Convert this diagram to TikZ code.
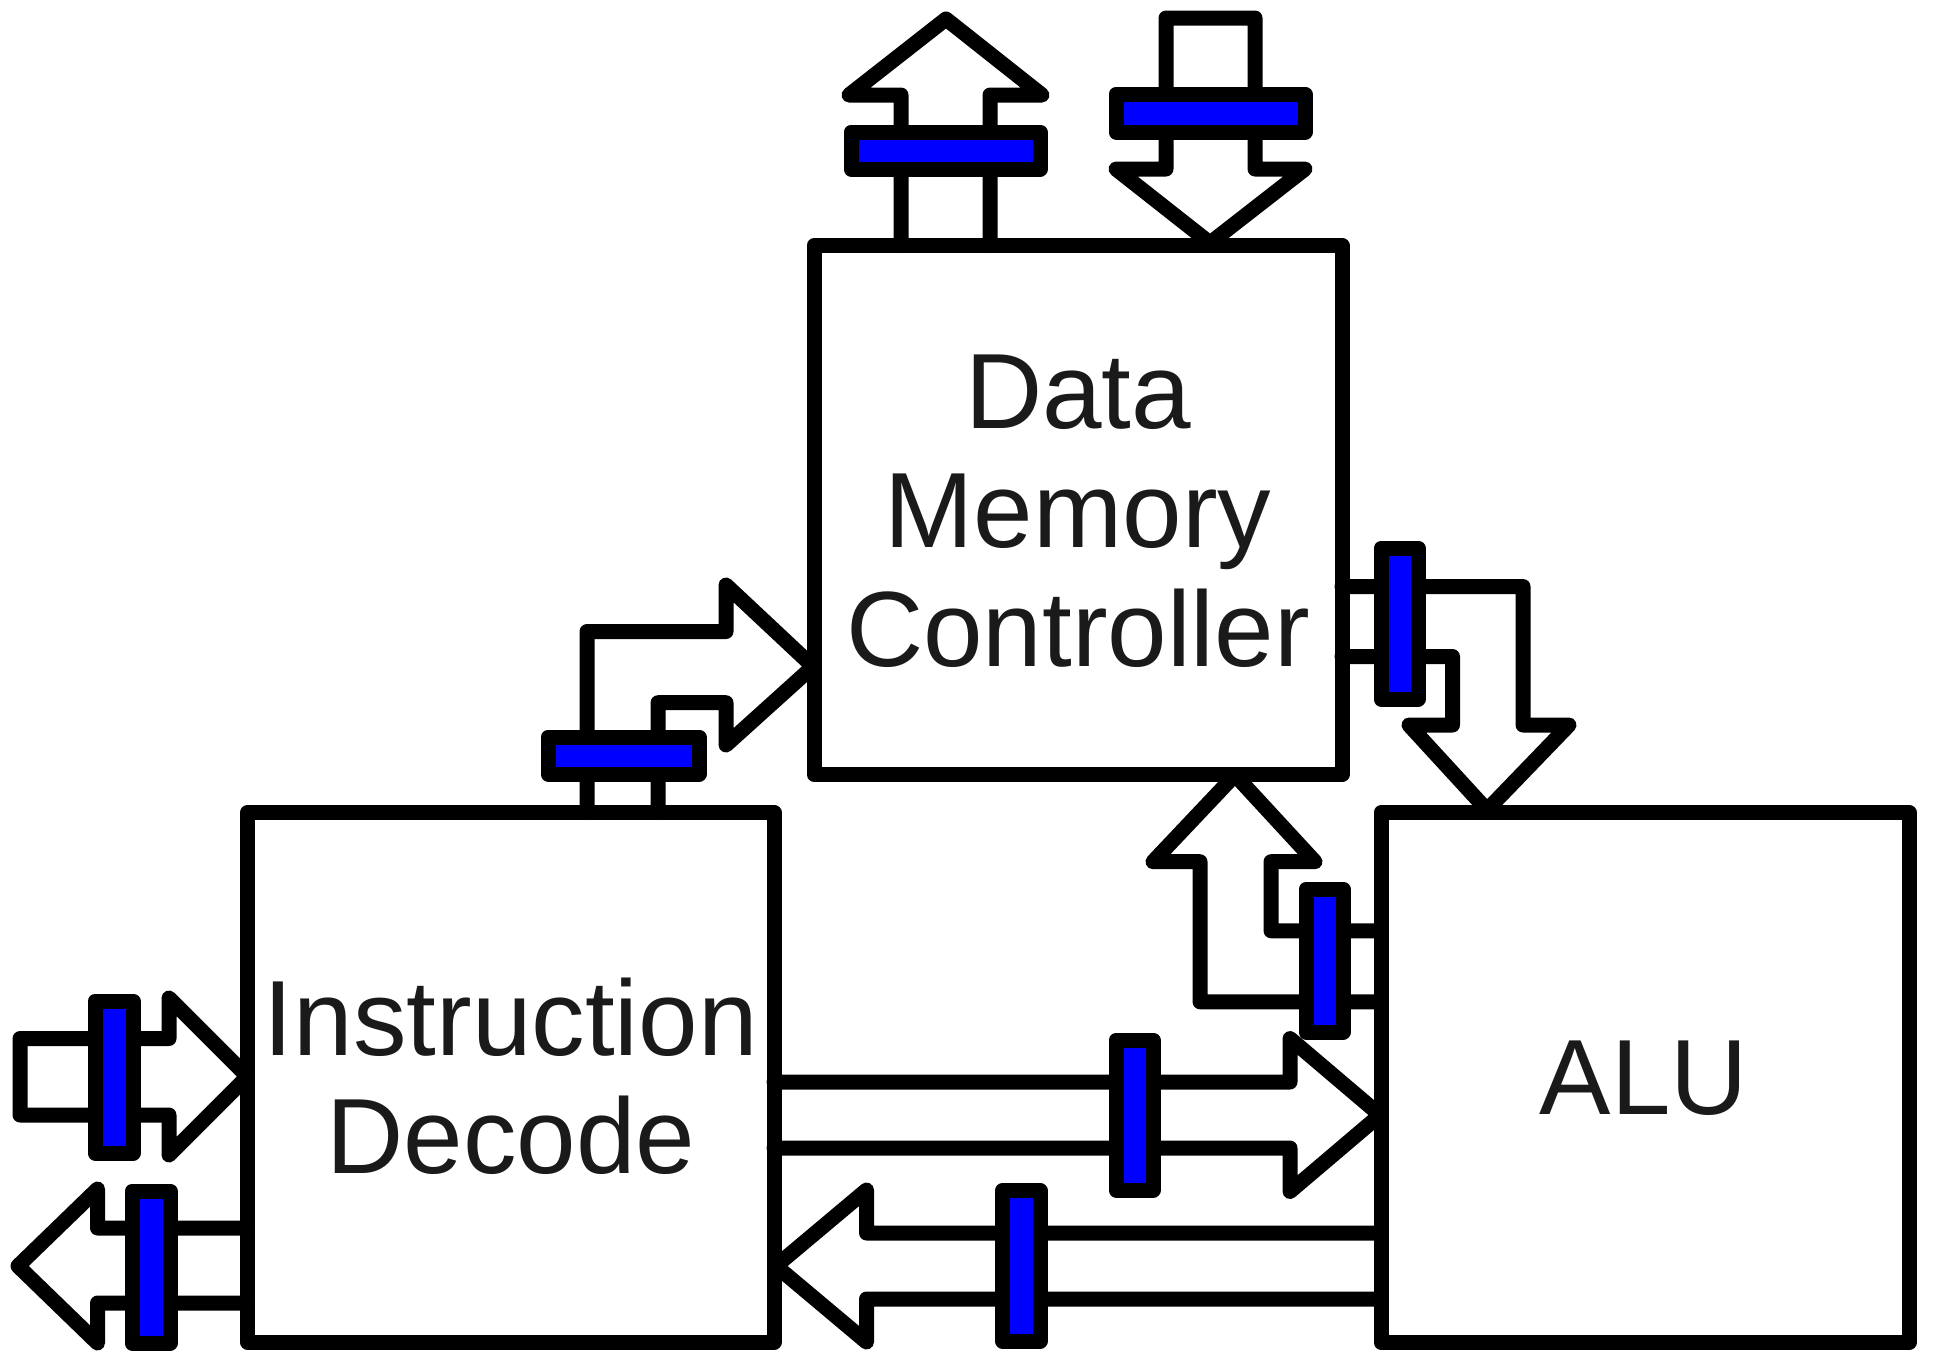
\documentclass[tikz,border=0pt]{standalone}
\usepackage{fontspec}
\setmainfont{Liberation Sans}
\definecolor{txtcol}{HTML}{1A1A1A}
\definecolor{barblue}{HTML}{0000FF}
\begin{document}
\begin{tikzpicture}[x=0.5pt,y=-0.5pt,line width=7.5pt,line join=round,line cap=round,
  blockbox/.style={draw=black,rectangle,inner sep=0pt},
  blockarrow/.style={draw=black},
  regbar/.style={draw=black,fill=barblue},
  lbl/.style={anchor=base,inner sep=0pt,text=txtcol,font=\fontsize{53.5}{62}\selectfont}]
\fill[white] (0,0) rectangle (1933,1351);
\useasboundingbox (0,0) rectangle (1933,1351);

% blocks
\node[blockbox,minimum width=264pt,minimum height=264.5pt] (dmc) at (1078,510) {};
\node[blockbox,minimum width=263.25pt,minimum height=264.75pt] (idec) at (510.75,1077.25) {};
\node[blockbox,minimum width=264pt,minimum height=265pt] (alu) at (1645,1077.5) {};

% labels
\node[lbl] (t1) at (1078,428) {Data};
\node[lbl] (t2) at (1078,547) {Memory};
\node[lbl] (t3) at (1078,666.5) {Controller};
\node[lbl] (t4) at (510.75,1055) {Instruction};
\node[lbl] (t5) at (510.75,1173.3) {Decode};
\node[lbl] (t6) at (1644,1114) {ALU};

% A1: up arrow out of DMC
\draw[blockarrow] (901,245.5) -- (901,95) -- (849,95) -- (946,19) -- (1042,95) -- (990,95) -- (990,245.5);
% A2: down arrow into DMC
\draw[blockarrow] (1166,169) -- (1166,18) -- (1255,18) -- (1255,169) -- (1305,169) -- (1210,243) -- (1116,169) -- cycle;
% A3: ID -> DMC
\draw[blockarrow] (587,812.5) -- (587,631.5) -- (726,631.5) -- (726,585) -- (813,666.5) -- (726,745) -- (726,702.7) -- (658,702.7) -- (658,812.5);
% A4: DMC -> ALU
\draw[blockarrow] (1342,586.5) -- (1523,586.5) -- (1523,725) -- (1569,725) -- (1487,810) -- (1409,725) -- (1452.5,725) -- (1452.5,656.5) -- (1342,656.5);
% A5: ALU -> DMC
\draw[blockarrow] (1381,1001.8) -- (1200,1001.8) -- (1200,861.7) -- (1153,861.7) -- (1235,775) -- (1315,861.7) -- (1271,861.7) -- (1271,930.8) -- (1381,930.8);
% A6: ID -> ALU
\draw[blockarrow] (774,1082) -- (1290,1082) -- (1290,1038.5) -- (1380,1115) -- (1290,1191.5) -- (1290,1148) -- (774,1148);
% A7: ALU -> ID
\draw[blockarrow] (1381,1233) -- (866.5,1233) -- (866.5,1190) -- (776,1266) -- (866.5,1342) -- (866.5,1299) -- (1381,1299);
% A8: input -> ID
\draw[blockarrow] (169,1038.5) -- (20,1038.5) -- (20,1115) -- (169,1115) -- (169,1155) -- (247.5,1076.5) -- (169,998) -- cycle;
% A9: ID -> output
\draw[blockarrow] (247.5,1228) -- (97.5,1228) -- (97.5,1189) -- (18,1266) -- (97.5,1343) -- (97.5,1303) -- (247.5,1303);

% register bars
\draw[regbar] (851,132) rectangle (1040,169);
\draw[regbar] (1116,94) rectangle (1305,132);
\draw[regbar] (548,737) rectangle (699,774);
\draw[regbar] (1381,548) rectangle (1418,699);
\draw[regbar] (1306,889) rectangle (1343,1032);
\draw[regbar] (1116,1040) rectangle (1153,1190);
\draw[regbar] (1002.5,1190.5) rectangle (1040,1341);
\draw[regbar] (95,1001) rectangle (133,1153);
\draw[regbar] (132,1191) rectangle (170,1343);
\end{tikzpicture}
\end{document}
